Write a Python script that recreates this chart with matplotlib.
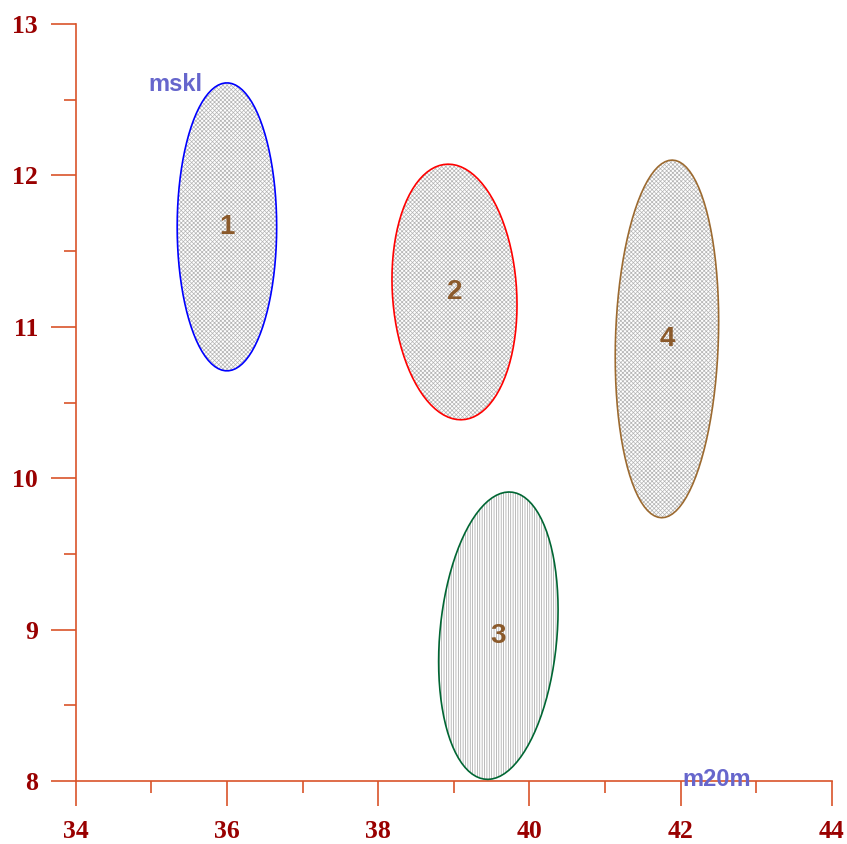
import numpy as np
import matplotlib
matplotlib.use("Agg")
import matplotlib.pyplot as plt
from matplotlib.patches import Polygon
from matplotlib.ticker import MultipleLocator

# Group confidence ellipses: centre, semi-extent in x and y, correlation
groups = ["1", "2", "3", "4"]
center_x = [36.00, 39.01, 39.59, 41.82]
center_y = [11.66, 11.23, 8.96, 10.92]
semi_x = [0.658, 0.827, 0.790, 0.684]
semi_y = [0.951, 0.844, 0.949, 1.181]
corr = [0.0, -0.10, 0.18, 0.10]
edge_colors = ["#0000ff", "#ff0000", "#006633", "#9c6a30"]
hatches = ["xxxxxxxx", "xxxxxxxx", "|||||||", "xxxxxxxx"]

x_title = "m20m"
y_title = "mskl"
x_range = (34, 44)
y_range = (8, 13)

spine_col = "#d9542a"
tick_text_col = "#990000"

plt.rcParams["hatch.linewidth"] = 0.5

fig = plt.figure(figsize=(8.47, 8.44), dpi=100)
ax = fig.add_axes([0.0894, 0.0746, 0.8926, 0.8970])
ax.set_xlim(*x_range)
ax.set_ylim(*y_range)

t = np.linspace(0, 2 * np.pi, 90, endpoint=False)
for g, cx, cy, a, b, r, ec, h in zip(groups, center_x, center_y, semi_x, semi_y,
                                      corr, edge_colors, hatches):
    xs = cx + a * np.cos(t)
    ys = cy + b * (r * np.cos(t) + np.sqrt(1 - r * r) * np.sin(t))
    verts = np.column_stack([xs, ys])
    hc = "#a0a0a0" if "|" in h else "#b4b4b4"
    ax.add_patch(Polygon(verts, closed=True, facecolor="white",
                         edgecolor=hc, linewidth=0, hatch=h, zorder=2))
    ax.add_patch(Polygon(verts, closed=True, facecolor="none",
                         edgecolor=ec, linewidth=1.2, joinstyle="round",
                         zorder=3))
    ax.text(cx, cy, g, ha="center", va="center", fontsize=20,
            fontweight="bold", family="Liberation Sans", color="#8b5a2b",
            zorder=4)

# axis titles placed at the ends of the axes
ax.text(34.96, 12.60, y_title, ha="left", va="center", fontsize=17,
        fontweight="bold", family="Liberation Sans", color="#6666cc", zorder=5)
ax.text(42.03, 8.01, x_title, ha="left", va="center", fontsize=17,
        fontweight="bold", family="Liberation Sans", color="#6666cc", zorder=5)

for side in ["top", "right"]:
    ax.spines[side].set_visible(False)
for side in ["left", "bottom"]:
    ax.spines[side].set_color(spine_col)
    ax.spines[side].set_linewidth(1.2)

ax.xaxis.set_major_locator(MultipleLocator(2))
ax.xaxis.set_minor_locator(MultipleLocator(1))
ax.yaxis.set_major_locator(MultipleLocator(1))
ax.yaxis.set_minor_locator(MultipleLocator(0.5))
ax.tick_params(which="major", direction="out", length=18, width=1.2,
               color=spine_col, labelcolor=tick_text_col, labelsize=18.5)
ax.tick_params(which="minor", direction="out", length=8.6, width=1.2,
               color=spine_col)
ax.tick_params(axis="x", which="major", pad=10)
ax.tick_params(axis="y", which="major", pad=9)
for lab in ax.get_xticklabels() + ax.get_yticklabels():
    lab.set_fontfamily("Liberation Serif")
    lab.set_fontweight("bold")

fig.savefig("out.png", dpi=100)
